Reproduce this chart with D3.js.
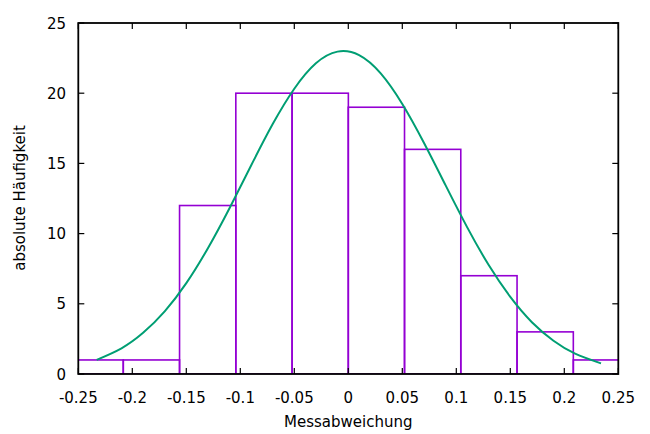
<!DOCTYPE html>
<html>
<head>
<meta charset="utf-8">
<script src="https://cdn.jsdelivr.net/npm/d3@7"></script>
<style>
  html, body { margin: 0; padding: 0; background: #fff; }
  svg { display: block; }
  text { font-family: "DejaVu Sans", sans-serif; font-size: 15px; fill: #000; }
</style>
</head>
<body>
<svg id="chart" width="650" height="434"></svg>
<script>
// ---- data ----
const binCenters = [-0.2344, -0.1823, -0.1302, -0.0781, -0.0260, 0.0260, 0.0781, 0.1302, 0.1823, 0.2344];
const binCounts  = [1, 1, 12, 20, 20, 19, 16, 7, 3, 1];
const binWidth = 0.0521;
const curveX = [-0.233, -0.21, -0.19, -0.17, -0.15, -0.13, -0.11, -0.09, -0.07, -0.05, -0.03, -0.01, 0.01, 0.03, 0.05, 0.07, 0.09, 0.11, 0.13, 0.15, 0.17, 0.19, 0.21, 0.234];
const curveY = [1.01, 1.83, 2.93, 4.46, 6.47, 8.96, 11.81, 14.85, 17.80, 20.32, 22.13, 22.96, 22.71, 21.41, 19.23, 16.47, 13.45, 10.46, 7.76, 5.49, 3.69, 2.37, 1.45, 0.76];
const xTicks = [-0.25, -0.2, -0.15, -0.1, -0.05, 0, 0.05, 0.1, 0.15, 0.2, 0.25];
const yTicks = [0, 5, 10, 15, 20, 25];
const xLabel = "Messabweichung";
const yLabel = "absolute Häufigkeit";

// ---- layout ----
const L = 78.3, R = 618.3, T = 23, B = 374;
const svg = d3.select("#chart");
const x = d3.scaleLinear().domain([-0.25, 0.25]).range([L, R]);
const y = d3.scaleLinear().domain([0, 25]).range([B, T]);
const tickLen = 6;

svg.append("defs").append("clipPath").attr("id", "clip")
  .append("rect").attr("x", L).attr("y", T).attr("width", R - L).attr("height", B - T);

const plot = svg.append("g").attr("clip-path", "url(#clip)");

// histogram boxes
plot.selectAll("rect.bin").data(binCenters).join("rect")
  .attr("class", "bin")
  .attr("x", (d) => x(d - binWidth / 2))
  .attr("width", (d) => x(d + binWidth / 2) - x(d - binWidth / 2))
  .attr("y", (d, i) => y(binCounts[i]))
  .attr("height", (d, i) => y(0) - y(binCounts[i]))
  .attr("fill", "none")
  .attr("stroke", "#9400d3")
  .attr("stroke-width", 1.6);

// gaussian curve
const pts = curveX.map((v, i) => [v, curveY[i]]);
plot.append("path").datum(pts)
  .attr("d", d3.line().x(d => x(d[0])).y(d => y(d[1])).curve(d3.curveNatural))
  .attr("fill", "none")
  .attr("stroke", "#009e73")
  .attr("stroke-width", 2);

// ticks (mirrored, inward)
const ax = svg.append("g").attr("stroke", "#000").attr("stroke-width", 1.2);
xTicks.forEach(t => {
  ax.append("line").attr("x1", x(t)).attr("x2", x(t)).attr("y1", B).attr("y2", B - tickLen);
  ax.append("line").attr("x1", x(t)).attr("x2", x(t)).attr("y1", T).attr("y2", T + tickLen);
});
yTicks.forEach(t => {
  ax.append("line").attr("x1", L).attr("x2", L + tickLen).attr("y1", y(t)).attr("y2", y(t));
  ax.append("line").attr("x1", R).attr("x2", R - tickLen).attr("y1", y(t)).attr("y2", y(t));
});

// border
svg.append("rect").attr("x", L).attr("y", T).attr("width", R - L).attr("height", B - T)
  .attr("fill", "none").attr("stroke", "#000").attr("stroke-width", 1.8);

// tick labels
svg.append("g").selectAll("text").data(xTicks).join("text")
  .attr("x", d => x(d)).attr("y", 403).attr("text-anchor", "middle")
  .text(d => String(d));
svg.append("g").selectAll("text").data(yTicks).join("text")
  .attr("x", 66).attr("y", d => y(d) + 5.5).attr("text-anchor", "end")
  .text(d => String(d));

// axis labels
svg.append("text").attr("x", (L + R) / 2).attr("y", 427).attr("text-anchor", "middle").text(xLabel);
svg.append("text").attr("transform", "translate(24.5,198) rotate(-90)").attr("text-anchor", "middle").text(yLabel);
</script>
</body>
</html>
